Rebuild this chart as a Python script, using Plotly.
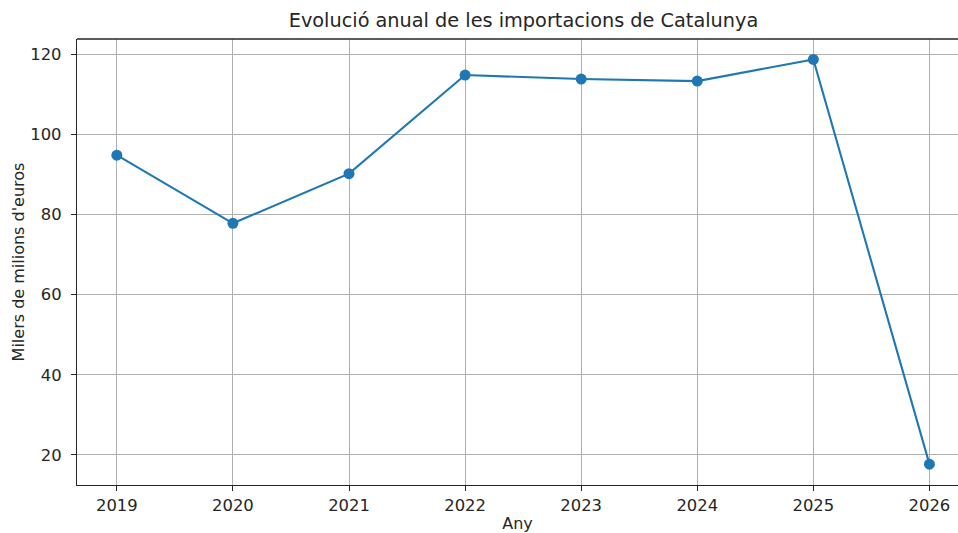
import plotly.graph_objects as go

years = [2019, 2020, 2021, 2022, 2023, 2024, 2025, 2026]
imports_bn = [94.8, 77.8, 90.2, 114.8, 113.8, 113.3, 118.7, 17.7]
y_ticks = [20, 40, 60, 80, 100, 120]

BLUE = "#1f77b4"
FONT = "DejaVu Sans"

fig = go.Figure()
fig.add_trace(go.Scatter(
    x=years, y=imports_bn, mode="lines+markers",
    line=dict(color=BLUE, width=2.1),
    marker=dict(color=BLUE, size=11),
    showlegend=False,
))

fig.update_layout(
    width=958, height=533,
    margin=dict(l=77, r=0, t=39, b=48, autoexpand=False),
    paper_bgcolor="white", plot_bgcolor="white",
    font=dict(family=FONT, color="#262626", size=16.4),
    title=dict(text="Evolució anual de les importacions de Catalunya",
               x=(77 + 970) / 2 / 958, xanchor="center",
               y=1 - 20 / 533, yanchor="middle",
               font=dict(size=19.3, color="#262626")),
    xaxis=dict(
        range=[2018.657, 2026.246], tickmode="array", tickvals=years,
        ticktext=[str(y) for y in years],
        showgrid=True, gridcolor="#b0b0b0", gridwidth=1,
        showline=True, linecolor="#262626", linewidth=1.3,
        ticks="outside", ticklen=5, tickcolor="#262626",
        zeroline=False, automargin=False,
        title=dict(text="Any", standoff=4, font=dict(size=16)),
    ),
    yaxis=dict(
        range=[12.5, 123.8], tickmode="array", tickvals=y_ticks,
        showgrid=True, gridcolor="#b0b0b0", gridwidth=1,
        showline=True, linecolor="#262626", linewidth=1.3,
        ticks="outside", ticklen=5, tickcolor="#262626",
        ticklabelstandoff=6,
        zeroline=False, automargin=False,
        title=dict(text="Milers de milions d'euros", standoff=1, font=dict(size=16)),
    ),
    shapes=[dict(type="line", xref="paper", yref="paper", x0=0, x1=1, y0=1, y1=1,
                 line=dict(color="#262626", width=1.3))],
)

fig.write_html("out.html", config={"displayModeBar": False},
               post_script="document.body.style.margin='0';")
